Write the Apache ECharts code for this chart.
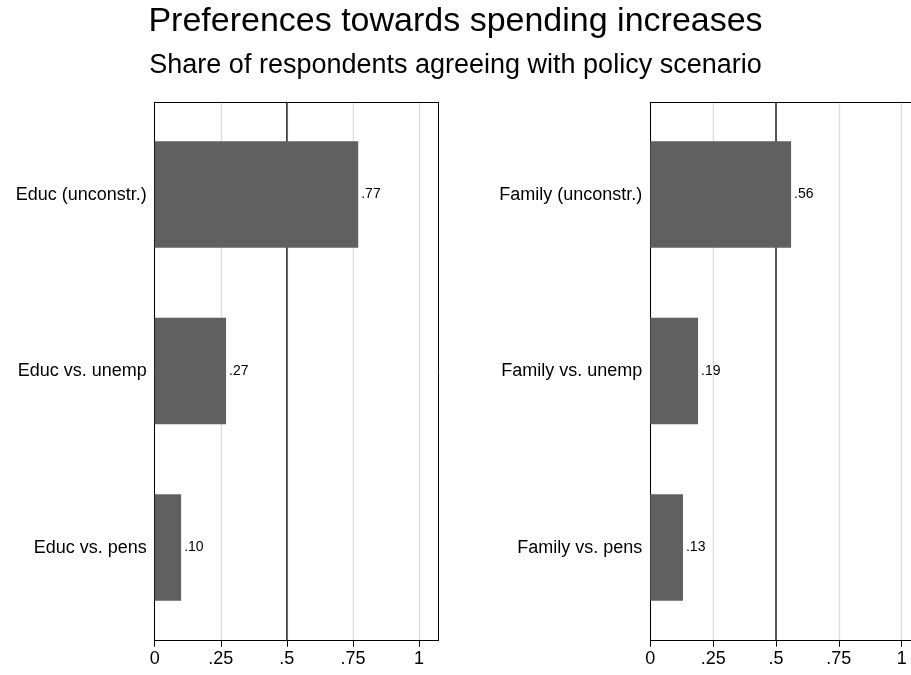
<!DOCTYPE html>
<html><head><meta charset="utf-8">
<script src="https://cdn.jsdelivr.net/npm/echarts@6/dist/echarts.min.js"></script>
<style>html,body{margin:0;padding:0;background:#fff}#c{width:911px;height:675px}</style>
</head><body><div id="c"></div>
<script>
const leftCategories = ['Educ (unconstr.)', 'Educ vs. unemp', 'Educ vs. pens'];
const leftValues = [0.77, 0.27, 0.10];
const rightCategories = ['Family (unconstr.)', 'Family vs. unemp', 'Family vs. pens'];
const rightValues = [0.56, 0.19, 0.13];
const xTicks = [0, 0.25, 0.5, 0.75, 1];
const refLineX = 0.5;
const leftMax = 1.073;
const rightMax = 1.037;

const FONT = 'Liberation Sans';
const chart = echarts.init(document.getElementById('c'), null, {renderer: 'canvas'});

function fmt(v) {
  if (v === 0) return '0';
  if (v === 1) return '1';
  return String(v).replace(/^0/, '');
}
const hidden = {axisLine: {show: false}, axisTick: {show: false}, axisLabel: {show: false}, splitLine: {show: false}};
function frameBottom(gi, max) {
  return {
    type: 'value', gridIndex: gi, min: 0, max: max, interval: 0.25, position: 'bottom',
    axisLine: {show: true, onZero: false, lineStyle: {color: '#000', width: 1}},
    axisTick: {show: true, length: 6, customValues: xTicks, lineStyle: {color: '#000'}},
    axisLabel: {fontFamily: FONT, fontSize: 18, color: '#000', margin: 9,
      customValues: xTicks, formatter: v => fmt(v)},
    splitLine: {show: true, lineStyle: {color: '#dcdcdc', width: 1.3}}
  };
}
function frameTop(gi, max) {
  return Object.assign({}, hidden, {
    type: 'value', gridIndex: gi, min: 0, max: max, position: 'top',
    axisLine: {show: true, onZero: false, lineStyle: {color: '#000', width: 1}}
  });
}
function barX(gi, max) {
  return Object.assign({}, hidden, {type: 'value', gridIndex: gi, min: 0, max: max, show: false});
}
function frameY(gi, pos) {
  return Object.assign({}, hidden, {
    type: 'value', gridIndex: gi, min: 0, max: 1, position: pos,
    axisLine: {show: true, onZero: false, lineStyle: {color: '#000', width: 1}}
  });
}
function catY(gi, cats) {
  return {
    type: 'category', gridIndex: gi, data: cats, inverse: true,
    axisLine: {show: false}, axisTick: {show: false}, splitLine: {show: false},
    axisLabel: {fontFamily: FONT, fontSize: 18, color: '#000', margin: 8}
  };
}
function barSeries(xi, yi, vals) {
  return {
    type: 'bar', xAxisIndex: xi, yAxisIndex: yi, data: vals, barWidth: '60.4%',
    itemStyle: {color: '#606060'},
    label: {show: true, position: 'right', distance: 3, fontFamily: FONT, fontSize: 14, color: '#000',
      formatter: p => p.value.toFixed(2).replace(/^0/, '')},
    z: 3
  };
}
function refSeries(xi, yi) {
  return {
    type: 'line', xAxisIndex: xi, yAxisIndex: yi, data: [[refLineX, 0], [refLineX, 1]],
    symbol: 'none', silent: true, lineStyle: {color: '#333', width: 1.6}, z: 1
  };
}

chart.setOption({
  animation: false,
  backgroundColor: '#fff',
  title: [
    {text: 'Preferences towards spending increases', left: 'center', top: 0,
      textStyle: {fontFamily: FONT, fontSize: 34, fontWeight: 'normal', color: '#000'}},
    {text: 'Share of respondents agreeing with policy scenario', left: 'center', top: 47,
      textStyle: {fontFamily: FONT, fontSize: 27, fontWeight: 'normal', color: '#000'}}
  ],
  grid: [
    {left: 154.7, top: 102.3, width: 283.6, height: 538.4},
    {left: 154.7, top: 106.3, width: 283.6, height: 529.5},
    {left: 650.3, top: 102.3, width: 260.7, height: 538.4},
    {left: 650.3, top: 106.3, width: 260.7, height: 529.5}
  ],
  xAxis: [
    frameBottom(0, leftMax), frameTop(0, leftMax), barX(1, leftMax),
    frameBottom(2, rightMax), frameTop(2, rightMax), barX(3, rightMax)
  ],
  yAxis: [
    frameY(0, 'left'), frameY(0, 'right'), catY(1, leftCategories),
    frameY(2, 'left'), catY(3, rightCategories)
  ],
  series: [
    refSeries(0, 0), barSeries(2, 2, leftValues),
    refSeries(3, 3), barSeries(5, 4, rightValues)
  ]
});
</script></body></html>
